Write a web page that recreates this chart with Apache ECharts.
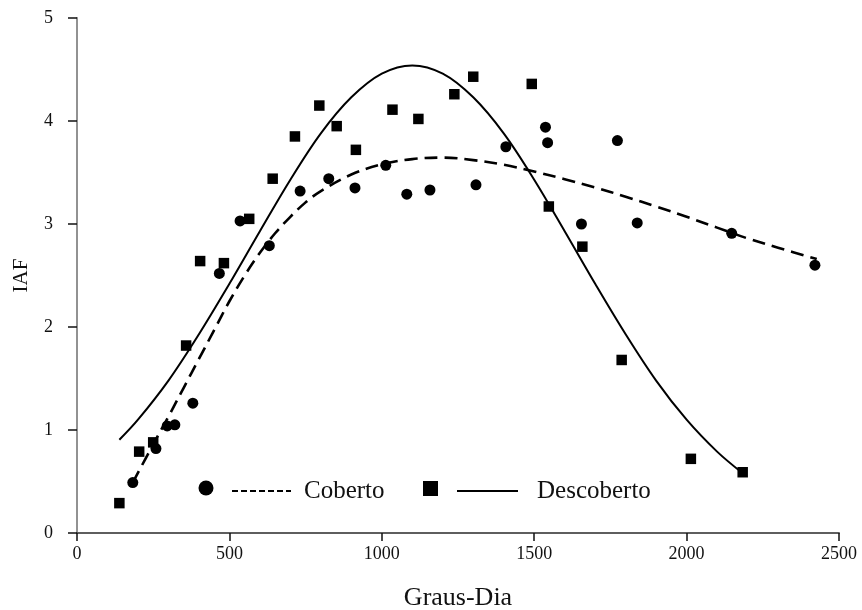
<!DOCTYPE html>
<html>
<head>
<meta charset="utf-8">
<script src="https://cdn.jsdelivr.net/npm/echarts@6/dist/echarts.min.js"></script>
<style>
  html, body { margin: 0; padding: 0; background: #fff; }
  #chart { width: 862px; height: 610px; }
</style>
</head>
<body>
<div id="chart"></div>
<script>
// Leaf area index (IAF) against accumulated degree-days, covered vs uncovered crop
const xTicks = [0, 500, 1000, 1500, 2000, 2500];
const yTicks = [0, 1, 2, 3, 4, 5];

// Coberto: observed points
const cobertoGD  = [183, 259, 296, 321, 380, 467, 535, 631, 732, 826, 912, 1013, 1082, 1158, 1309, 1407, 1537, 1544, 1655, 1773, 1838, 2148, 2421];
const cobertoIAF = [0.49, 0.82, 1.04, 1.05, 1.26, 2.52, 3.03, 2.79, 3.32, 3.44, 3.35, 3.57, 3.29, 3.33, 3.38, 3.75, 3.94, 3.79, 3.00, 3.81, 3.01, 2.91, 2.60];

// Descoberto: observed points
const descobertoGD  = [139, 204, 250, 358, 404, 482, 565, 642, 715, 795, 852, 915, 1035, 1120, 1238, 1300, 1492, 1548, 1658, 1787, 2014, 2184];
const descobertoIAF = [0.29, 0.79, 0.88, 1.82, 2.64, 2.62, 3.05, 3.44, 3.85, 4.15, 3.95, 3.72, 4.11, 4.02, 4.26, 4.43, 4.36, 3.17, 2.78, 1.68, 0.72, 0.59];

// Fitted curves
const cobertoFitGD  = [183, 250, 300, 350, 400, 450, 500, 550, 600, 650, 700, 750, 800, 900, 1000, 1100, 1200, 1300, 1400, 1500, 1600, 1700, 1800, 1900, 2000, 2100, 2200, 2300, 2427];
const cobertoFitIAF = [0.49, 0.86, 1.13, 1.41, 1.69, 1.97, 2.25, 2.50, 2.72, 2.91, 3.07, 3.21, 3.32, 3.48, 3.58, 3.63, 3.645, 3.62, 3.575, 3.51, 3.435, 3.355, 3.265, 3.17, 3.07, 2.965, 2.86, 2.77, 2.66];

const descobertoFitGD  = [139, 200, 300, 400, 500, 600, 700, 800, 900, 1000, 1100, 1200, 1300, 1400, 1500, 1600, 1700, 1800, 1900, 2000, 2100, 2184];
const descobertoFitIAF = [0.905, 1.10, 1.48, 1.93, 2.42, 2.93, 3.43, 3.88, 4.23, 4.46, 4.54, 4.46, 4.23, 3.88, 3.43, 2.93, 2.42, 1.93, 1.48, 1.10, 0.79, 0.58];

const zip = (xs, ys) => xs.map((x, i) => [x, ys[i]]);

const serif = '"Liberation Serif", "DejaVu Serif", serif';
const chart = echarts.init(document.getElementById('chart'), null, { renderer: 'canvas' });

const grid = { left: 77, right: 23, top: 18, bottom: 77, containLabel: false, outerBoundsMode: 'none' };

chart.setOption({
  animation: false,
  backgroundColor: '#fff',
  grid: grid,
  xAxis: [{
    type: 'value',
    min: xTicks[0], max: xTicks[xTicks.length - 1], interval: 500,
    name: 'Graus-Dia', nameLocation: 'middle', nameGap: 52, nameMoveOverlap: false,
    nameTextStyle: { fontFamily: serif, fontSize: 26, color: '#111' },
    axisLine: { show: true, lineStyle: { color: '#111', width: 1.5 } },
    axisTick: { show: true, inside: false, length: 8, lineStyle: { color: '#111', width: 1.5 } },
    axisLabel: { fontFamily: serif, fontSize: 18, color: '#111', margin: 12, formatter: v => String(v) },
    splitLine: { show: false }
  }, {
    type: 'value', position: 'top',
    min: xTicks[0], max: xTicks[xTicks.length - 1],
    axisLine: { show: true, lineStyle: { color: '#666', width: 1.5 } },
    axisTick: { show: false }, axisLabel: { show: false }, splitLine: { show: false }
  }],
  yAxis: [{
    type: 'value',
    min: yTicks[0], max: yTicks[yTicks.length - 1], interval: 1,
    name: 'IAF', nameLocation: 'middle', nameGap: 45, nameMoveOverlap: false,
    nameTextStyle: { fontFamily: serif, fontSize: 21, color: '#111' },
    axisLine: { show: true, lineStyle: { color: '#111', width: 1.5 } },
    axisTick: { show: true, inside: false, length: 9, lineStyle: { color: '#111', width: 1.5 } },
    axisLabel: { fontFamily: serif, fontSize: 18, color: '#111', margin: 24, formatter: v => String(v) },
    splitLine: { show: false }
  }, {
    type: 'value', position: 'right',
    min: yTicks[0], max: yTicks[yTicks.length - 1],
    axisLine: { show: true, lineStyle: { color: '#aaa', width: 1.5 } },
    axisTick: { show: false }, axisLabel: { show: false }, splitLine: { show: false }
  }],
  series: [
    {
      name: 'Coberto (ajuste)', type: 'line', smooth: 0.35,
      data: zip(cobertoFitGD, cobertoFitIAF),
      showSymbol: false, silent: true,
      lineStyle: { color: '#000', width: 2.6, type: [13, 7] }
    },
    {
      name: 'Descoberto (ajuste)', type: 'line', smooth: 0.35,
      data: zip(descobertoFitGD, descobertoFitIAF),
      showSymbol: false, silent: true,
      lineStyle: { color: '#000', width: 2 }
    },
    {
      name: 'Coberto', type: 'scatter', symbol: 'circle', symbolSize: 11,
      data: zip(cobertoGD, cobertoIAF),
      itemStyle: { color: '#000', opacity: 1 }
    },
    {
      name: 'Descoberto', type: 'scatter', symbol: 'rect', symbolSize: 10.5,
      data: zip(descobertoGD, descobertoIAF),
      itemStyle: { color: '#000', opacity: 1 }
    }
  ],
  graphic: [
    // legend: marker, line style, label
    { type: 'circle', shape: { cx: 206, cy: 488, r: 7.5 }, style: { fill: '#000' } },
    { type: 'line', shape: { x1: 232, y1: 491, x2: 291, y2: 491 }, style: { stroke: '#000', lineWidth: 2.2, lineDash: [6, 3] } },
    { type: 'text', x: 304, y: 491, style: { text: 'Coberto', font: '25px ' + serif, fill: '#111', verticalAlign: 'middle' } },
    { type: 'rect', shape: { x: 423, y: 481, width: 15, height: 15 }, style: { fill: '#000' } },
    { type: 'line', shape: { x1: 457, y1: 491, x2: 518, y2: 491 }, style: { stroke: '#000', lineWidth: 2 } },
    { type: 'text', x: 537, y: 491, style: { text: 'Descoberto', font: '25px ' + serif, fill: '#111', verticalAlign: 'middle' } }
  ]
});
</script>
</body>
</html>
